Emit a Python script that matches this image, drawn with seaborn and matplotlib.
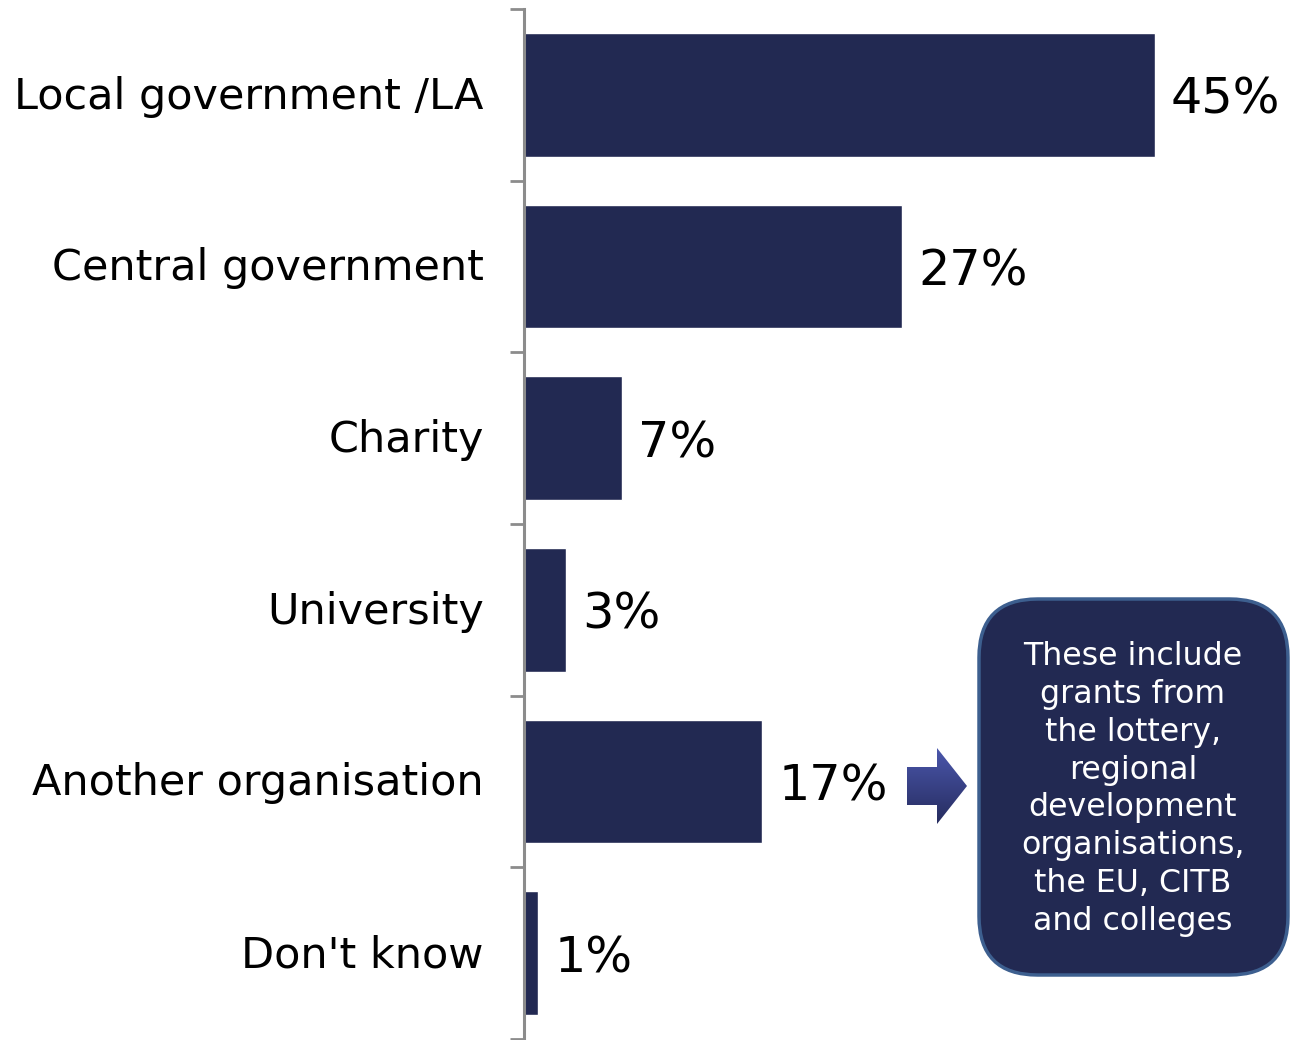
import matplotlib
matplotlib.use("Agg")
import matplotlib.pyplot as plt
from matplotlib.patches import FancyBboxPatch, Polygon
import numpy as np
import pandas as pd
import seaborn as sns

categories = ["Local government /LA", "Central government", "Charity",
              "University", "Another organisation", "Don't know"]
values = [45, 27, 7, 3, 17, 1]
value_labels = ["45%", "27%", "7%", "3%", "17%", "1%"]
note_text = ("These include\ngrants from\nthe lottery,\nregional\ndevelopment\n"
             "organisations,\nthe EU, CITB\nand colleges")

sns.set_style("white")
plt.rcParams["font.family"] = ["DejaVu Sans"]

BAR = "#222952"
SPINE = "#8c8c8c"

W, H = 1301, 1040
fig = plt.figure(figsize=(W / 100, H / 100), dpi=100)
ax = fig.add_axes([524 / W, 1 / H, (W - 524) / W, 1030 / H])

df = pd.DataFrame({"category": categories, "value": values})
sns.barplot(data=df, x="value", y="category", orient="h", color=BAR,
            width=0.72, saturation=1, ax=ax)

ax.set_xlim(0, (W - 525) / 14)
ax.set_ylim(len(categories) - 0.5, -0.5)
ax.set_xlabel("")
ax.set_ylabel("")
ax.set_xticks([])

# boundaries between categories carry the tick marks; names sit at the centres
ax.set_yticks(np.arange(-0.5, len(categories), 1.0))
ax.set_yticklabels([])
ax.set_yticks(np.arange(len(categories)) - 0.015, minor=True)
ax.set_yticklabels(categories, minor=True, fontsize=31, color="black")
ax.tick_params(axis="y", which="major", direction="out", length=10,
               width=2.0, color=SPINE, left=True)
ax.tick_params(axis="y", which="minor", length=0, pad=29)

for side in ["top", "right", "bottom"]:
    ax.spines[side].set_visible(False)
ax.spines["left"].set_color(SPINE)
ax.spines["left"].set_linewidth(2.2)

for i, (v, lab) in enumerate(zip(values, value_labels)):
    ax.text(v + 1.15, i + 0.03, lab, va="center", ha="left", fontsize=35.5,
            color="black")

# callout box
box = FancyBboxPatch((979 / W, 1 - 975 / H), (1288 - 979) / W, (975 - 599) / H,
                     boxstyle="round,pad=0,rounding_size=0.045",
                     transform=fig.transFigure, facecolor=BAR,
                     edgecolor="#3d5f8f", linewidth=2.5,
                     mutation_aspect=W / H)
fig.patches.append(box)
fig.text(1133 / W, 1 - 789 / H, note_text, ha="center", va="center",
         color="white", fontsize=22.8, linespacing=1.29)

# gradient arrow pointing to the box
pts = np.array([[907, 767], [937, 767], [937, 748], [967, 786],
                [937, 824], [937, 805], [907, 805]], dtype=float)
pts_fig = np.column_stack([pts[:, 0] / W, 1 - pts[:, 1] / H])
arrow = Polygon(pts_fig, closed=True, transform=fig.transFigure,
                facecolor="none", edgecolor="none")
fig.patches.append(arrow)
grad_ax = fig.add_axes([907 / W, 1 - 824 / H, 60 / W, 76 / H])
grad_ax.set_axis_off()
grad = np.linspace(0, 1, 256).reshape(-1, 1)
cmap = matplotlib.colors.LinearSegmentedColormap.from_list(
    "arrow", ["#4b57ad", "#262c5e"])
img = grad_ax.imshow(grad, aspect="auto", cmap=cmap, extent=[0, 1, 0, 1],
                     origin="upper")
img.set_clip_path(arrow)

fig.savefig("out.png", dpi=100)
